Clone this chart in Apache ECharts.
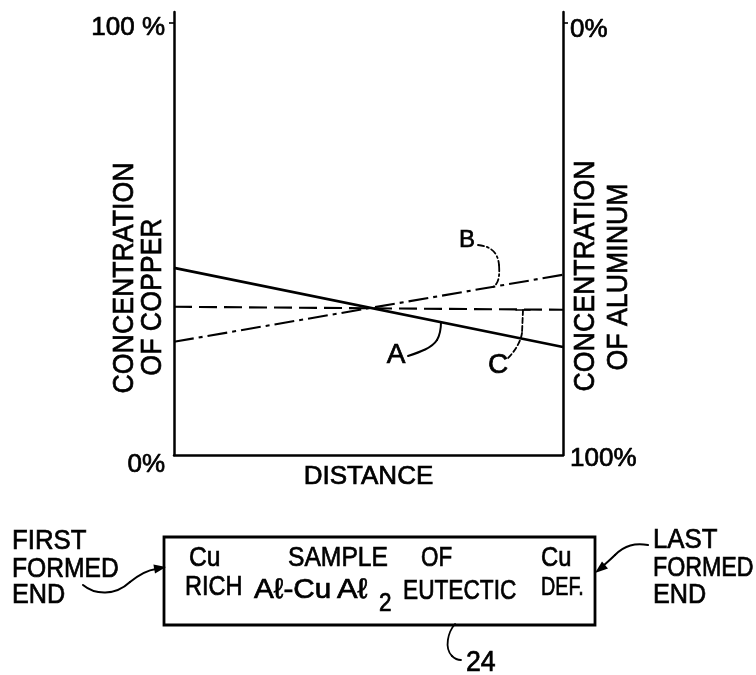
<!DOCTYPE html>
<html>
<head>
<meta charset="utf-8">
<script src="https://cdn.jsdelivr.net/npm/echarts@6/dist/echarts.min.js"></script>
<style>
html,body{margin:0;padding:0;background:#fff;}
#c{width:756px;height:675px;}
</style>
</head>
<body>
<div id="c"></div>
<script>
// ---- data ----
const distance = [0, 100];                 // relative distance along the sample
const curveA = [43.3, 25.0];               // A: solid, copper concentration (%)
const curveB = [26.2, 41.7];               // B: dash-dot
const curveC = [34.3, 33.6];               // C: dashed
const leftTicks = [0, 100];                // copper axis ticks
const rightTicks = [0, 100];               // aluminum axis ticks (inverted)
const leftTickLabels = {0: '0%', 100: '100 %'};
const rightTickLabels = {0: '0%', 100: '100%'};
const xAxisName = 'DISTANCE';
const leftTitle = ['CONCENTRATION', 'OF COPPER'];
const rightTitle = ['CONCENTRATION', 'OF ALUMINUM'];
const curveNames = ['A', 'B', 'C'];

const FONT = "'Liberation Sans', Arial, 'DejaVu Sans', sans-serif";
const INK = '#000';
const HEAVY = 0.7;   // extra stroke to mimic the heavier lettering

function pairs(ys) { return distance.map((x, i) => [x, ys[i]]); }

function txt(x, y, text, size, opts) {
  opts = opts || {};
  return {
    type: 'text', x: x, y: y,
    rotation: opts.rotation || 0,
    scaleX: opts.scaleX || 1, scaleY: 1,
    silent: true,
    style: {
      text: text, fill: INK,
      stroke: INK, lineWidth: HEAVY,
      font: (size) + 'px ' + FONT,
      fontSize: size, fontFamily: FONT,
      textAlign: opts.align || 'left', align: opts.align || 'left',
      textVerticalAlign: 'middle', verticalAlign: 'middle'
    }
  };
}
// simple path parser: M, L, C (absolute) -> line / bezierCurve graphic elements
function pathEls(d, width, dash) {
  const tok = d.match(/[MLC]|-?\d+(\.\d+)?/g);
  const out = [];
  let i = 0, cx = 0, cy = 0, cmd = null;
  const st = { stroke: INK, fill: null, lineWidth: width, lineDash: dash || null, lineCap: 'round' };
  while (i < tok.length) {
    if (/[MLC]/.test(tok[i])) { cmd = tok[i]; i++; }
    if (cmd === 'M') { cx = +tok[i]; cy = +tok[i + 1]; i += 2; }
    else if (cmd === 'L') {
      const x = +tok[i], y = +tok[i + 1]; i += 2;
      out.push({ type: 'line', silent: true, shape: { x1: cx, y1: cy, x2: x, y2: y }, style: Object.assign({}, st) });
      cx = x; cy = y;
    } else if (cmd === 'C') {
      const v = tok.slice(i, i + 6).map(Number); i += 6;
      out.push({ type: 'bezierCurve', silent: true,
        shape: { x1: cx, y1: cy, cpx1: v[0], cpy1: v[1], cpx2: v[2], cpy2: v[3], x2: v[4], y2: v[5] },
        style: Object.assign({}, st) });
      cx = v[4]; cy = v[5];
    } else { i++; }
  }
  return out;
}
function tri(points) {
  return { type: 'polygon', silent: true, shape: { points: points }, style: { fill: INK } };
}

const chart = echarts.init(document.getElementById('c'), null, { renderer: 'canvas' });

const elements = [
  // vertical axis titles
  txt(125, 278, leftTitle[0], 30, { rotation: Math.PI / 2, align: 'center', scaleX: 0.89 }),
  txt(152.5, 297, leftTitle[1], 30, { rotation: Math.PI / 2, align: 'center', scaleX: 0.89 }),
  txt(585.5, 276, rightTitle[0], 30, { rotation: Math.PI / 2, align: 'center', scaleX: 0.89 }),
  txt(619, 277, rightTitle[1], 30, { rotation: Math.PI / 2, align: 'center', scaleX: 0.89 }),
  // curve labels
  txt(396, 355, curveNames[0], 28, { align: 'center' }),
  txt(467, 240, curveNames[1], 24, { align: 'center' }),
  txt(498, 365, curveNames[2], 28, { align: 'center' }),
  // sample box
  { type: 'rect', silent: true, shape: { x: 164, y: 537, width: 431, height: 88 },
    style: { stroke: INK, fill: null, lineWidth: 2.8 } },
  txt(189, 558, 'Cu', 28, { scaleX: 0.88 }),
  txt(185, 587, 'RICH', 28, { scaleX: 0.84 }),
  txt(288, 558, 'SAMPLE', 28, { scaleX: 0.88 }),
  txt(421, 558, 'OF', 28, { scaleX: 0.8 }),
  txt(254, 590, 'Aℓ-Cu', 28, { scaleX: 1.06 }),
  txt(337, 590, 'Aℓ', 28, { scaleX: 1.1 }),
  txt(379, 604, '2', 25, { scaleX: 0.9 }),
  txt(403, 592, 'EUTECTIC', 27, { scaleX: 0.84 }),
  txt(541, 558, 'Cu', 28, { scaleX: 0.85 }),
  txt(541, 588, 'DEF.', 26, { scaleX: 0.76 }),
  // end labels
  txt(12, 541, 'FIRST', 28, { scaleX: 0.92 }),
  txt(12, 569, 'FORMED', 28, { scaleX: 0.88 }),
  txt(12, 595, 'END', 28, { scaleX: 0.9 }),
  txt(653, 540, 'LAST', 28, { scaleX: 0.92 }),
  txt(653, 569, 'FORMED', 27, { scaleX: 0.86 }),
  txt(653, 595, 'END', 28, { scaleX: 0.9 }),
  txt(466, 663, '24', 29, { scaleX: 0.92 }),
  tri([[166, 567], [153.4, 564.6], [155, 573.6]]),
  tri([[595, 573], [602, 561.5], [608, 568.5]])
].concat(
  pathEls('M408 356 C420 352 432 348 437 340 C441 333 441 327 441 322', 2),
  pathEls('M478 245 C490 246 498 252 499 265 C500 278 498 284 493 287', 1.8, [6, 3, 2, 3]),
  pathEls('M523 310 L522 333 C521 340 516 351 506 360', 1.8, [5, 3]),
  pathEls('M516 310 L530 310', 1.6),
  pathEls('M83 585 C95 595 115 596 130 582 C140 574 148 570 156 569', 2),
  pathEls('M648 545 C635 543 625 545 615 555 C610 560 606 563 603 566', 2),
  pathEls('M455 624 C448 632 444 648 452 656 C455 659 458 660 461 660', 1.8)
);

const tickRich = (pad) => ({ fontSize: 26, fontFamily: FONT, color: INK, padding: [pad, 0, 0, 0],
  textBorderColor: INK, textBorderWidth: HEAVY });

const option = {
  backgroundColor: '#fff',
  animation: false,
  grid: { left: 174, right: 193, top: 12, bottom: 220, outerBoundsMode: 'none' },
  xAxis: {
    type: 'value', min: 0, max: 100,
    axisLine: { show: true, lineStyle: { color: INK, width: 2.5 } },
    axisTick: { show: false }, axisLabel: { show: false }, splitLine: { show: false },
    name: xAxisName, nameLocation: 'middle', nameGap: 9,
    nameTextStyle: { color: INK, fontSize: 26, fontFamily: FONT, verticalAlign: 'top',
      textBorderColor: INK, textBorderWidth: HEAVY }
  },
  yAxis: [
    {
      type: 'value', position: 'left', min: 0, max: 102.5,
      axisLine: { show: true, onZero: false, lineStyle: { color: INK, width: 2.5 } },
      axisTick: { show: true, customValues: [100], length: 5, lineStyle: { color: INK, width: 1.6 } },
      axisLabel: {
        customValues: leftTicks, margin: 9, color: INK, fontFamily: FONT, fontSize: 26,
        formatter: v => (v === 100 ? '{t|' : '{b|') + leftTickLabels[v] + '}',
        rich: { t: tickRich(10), b: tickRich(19) }
      },
      splitLine: { show: false }
    },
    {
      type: 'value', position: 'right', inverse: true, min: -2.5, max: 100,
      axisLine: { show: true, onZero: false, lineStyle: { color: INK, width: 2.5 } },
      axisTick: { show: true, customValues: [0], length: 5, lineStyle: { color: INK, width: 1.6 } },
      axisLabel: {
        customValues: rightTicks, margin: 7, color: INK, fontFamily: FONT, fontSize: 26,
        formatter: v => (v === 0 ? '{t|' : '{b|') + rightTickLabels[v] + '}',
        rich: { t: tickRich(14), b: tickRich(8) }
      },
      splitLine: { show: false }
    }
  ],
  series: [
    { name: curveNames[0], type: 'line', yAxisIndex: 0, data: pairs(curveA), showSymbol: false, symbol: 'none',
      lineStyle: { color: INK, width: 2.6, type: 'solid' }, silent: true },
    { name: curveNames[1], type: 'line', yAxisIndex: 0, data: pairs(curveB), showSymbol: false, symbol: 'none',
      lineStyle: { color: INK, width: 2.1, type: [20, 5, 4, 5] }, silent: true },
    { name: curveNames[2], type: 'line', yAxisIndex: 0, data: pairs(curveC), showSymbol: false, symbol: 'none',
      lineStyle: { color: INK, width: 2.1, type: [18, 7] }, silent: true }
  ],
  graphic: { elements: elements }
};
chart.setOption(option);
</script>
</body>
</html>
